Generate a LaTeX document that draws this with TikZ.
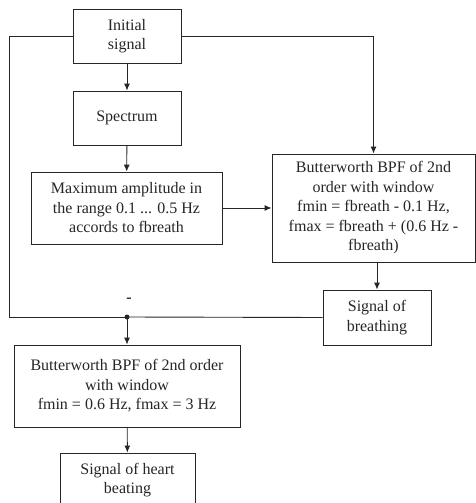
\documentclass[tikz,border=0pt]{standalone}
\usepackage{fontspec}
\setmainfont{Liberation Serif}
\usepackage{tikz}
\usetikzlibrary{arrows.meta}
\tikzset{
    flow-box/.style = {draw=black!85, fill=white, line width=0.9pt, rectangle, align=center, inner sep=2pt, text=black!85, font=\fontsize{16}{19.5}\selectfont},
    flow-line/.style = {-{Latex[length=7pt, width=6pt]}, draw=black!85, line width=0.9pt},
    flow-wire/.style = {draw=black!85, line width=0.9pt},
}
\begin{document}
\begin{tikzpicture}[x=1pt, y=-1pt]
\useasboundingbox (0,0) rectangle (476,503);
\node[flow-box, minimum width=108pt, minimum height=54pt] (init) at (127,36) {Initial\\signal};
\node[flow-box, minimum width=108pt, minimum height=54pt] (spec) at (127,118) {Spectrum};
\node[flow-box, minimum width=191pt, minimum height=72pt] (maxamp) at (126.5,208) {Maximum amplitude in\\the range 0.1 ... 0.5 Hz\\accords to fbreath};
\node[flow-box, minimum width=203pt, minimum height=108pt] (bpf-breath) at (373.5,208) {Butterworth BPF of 2nd\\order with window\\fmin = fbreath - 0.1 Hz,\\fmax = fbreath + (0.6 Hz -\\fbreath)};
\node[flow-box, minimum width=108pt, minimum height=55pt] (breath) at (377,317.5) {Signal of\\breathing};
\node[flow-box, minimum width=226pt, minimum height=82pt] (bpf-heart) at (127,386) {Butterworth BPF of 2nd order\\with window\\fmin = 0.6 Hz, fmax = 3 Hz};
\node[flow-box, minimum width=135pt, minimum height=54pt] (heart) at (127.5,480) {Signal of heart\\beating};

% feedback loop round the left side
\coordinate (left-top) at (9,36);
\coordinate (left-bottom) at (9,317);
\coordinate (junc) at (127,317);
\node[text=black!85, font=\fontsize{16}{19.5}\selectfont\bfseries] (minus) at (129,300) {-};

\draw[flow-line] (init) -- (spec);
\draw[flow-line] (spec) -- (maxamp);
\draw[flow-line] (maxamp) -- (bpf-breath);
\draw[flow-line] (init.east) -| (bpf-breath.north);
\draw[flow-line] (bpf-breath.south -| breath.north) -- (breath.north);
\draw[flow-wire] (init.west) -- (left-top) -- (left-bottom) -- (junc);
\draw[flow-wire] (breath.west) -- (junc);
\fill[black!85] (junc) circle (2.5pt);
\draw[flow-line] (junc) -- (bpf-heart.north);
\draw[flow-line] (bpf-heart) -- (heart);
\end{tikzpicture}
\end{document}
